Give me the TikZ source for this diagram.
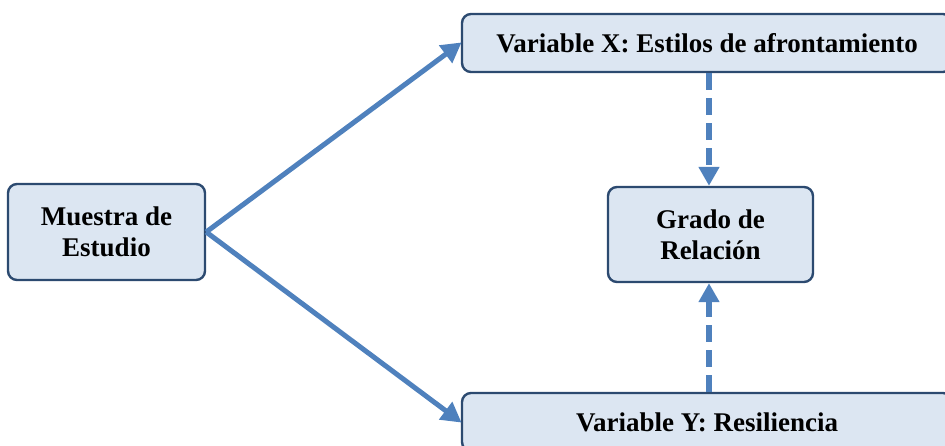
\documentclass[tikz,border=0pt]{standalone}
\usepackage{fontspec}
\setmainfont{Liberation Serif}
\usetikzlibrary{arrows.meta}
\definecolor{boxfill}{HTML}{DCE6F2}
\definecolor{boxdraw}{HTML}{2C4A70}
\definecolor{arrowc}{HTML}{4F81BD}
\tikzset{
  box/.style={draw=boxdraw, fill=boxfill, line width=2.4pt, rounded corners=9pt,
    align=center, inner sep=0pt, font=\fontsize{27}{31}\selectfont\bfseries},
  solidarrow/.style={draw=arrowc, line width=5pt, -{Triangle[length=20pt,width=21pt]}, shorten >=-1pt},
  dasharrow/.style={draw=arrowc, line width=6pt, dash pattern=on 17pt off 8pt, -{Triangle[length=19pt,width=20pt]}}
}
\begin{document}
\begin{tikzpicture}[x=1pt,y=-1pt]
\useasboundingbox (0,0) rectangle (945,445);
\clip (0,0) rectangle (945,445);
\node[box, minimum width=197pt, minimum height=96pt] (muestra) at (106.5,232) {Muestra de\\Estudio};
\node[box, minimum width=205pt, minimum height=95pt] (grado) at (710.5,234.5) {Grado de\\Relación};
\node[box, minimum width=490pt, minimum height=58pt] (varx) at (707,43) {Variable X: Estilos de afrontamiento};
\node[box, minimum width=490pt, minimum height=58pt] (vary) at (707,422) {Variable Y: Resiliencia};
\draw[solidarrow] (muestra.east) -- (varx.west);
\draw[solidarrow] (muestra.east) -- (vary.west);
\draw[dasharrow] (varx.south -| grado.north) ++(-1.5,0) coordinate (a1) (a1) -- (a1 |- grado.north);
\draw[dasharrow] (vary.north -| grado.south) ++(-1.5,0) coordinate (a2) (a2) -- (a2 |- grado.south);
\end{tikzpicture}
\end{document}
